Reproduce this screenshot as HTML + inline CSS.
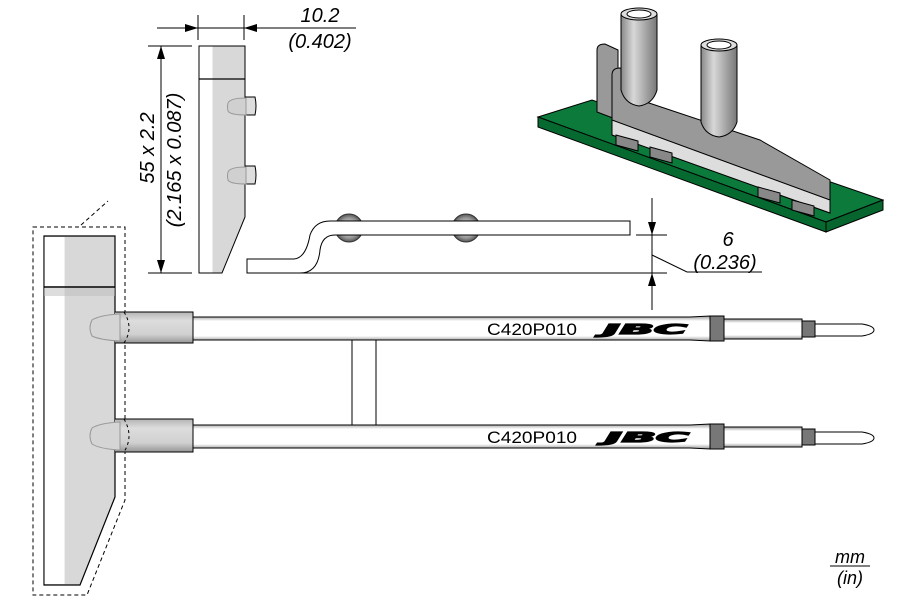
<!DOCTYPE html>
<html><head><meta charset="utf-8"><style>html,body{margin:0;background:#fff}svg{display:block}</style></head><body>
<svg width="900" height="600" viewBox="0 0 900 600" xmlns="http://www.w3.org/2000/svg" font-family="Liberation Sans, sans-serif">
<defs>
<linearGradient id="sh" x1="0" y1="0" x2="0" y2="1"><stop offset="0" stop-color="#999"/><stop offset=".2" stop-color="#fff"/><stop offset=".8" stop-color="#fff"/><stop offset="1" stop-color="#999"/></linearGradient>
<linearGradient id="sl" x1="0" y1="0" x2="0" y2="1"><stop offset="0" stop-color="#aaa"/><stop offset=".3" stop-color="#ddd"/><stop offset=".7" stop-color="#d0d0d0"/><stop offset="1" stop-color="#888"/></linearGradient>
<linearGradient id="cy" x1="0" y1="0" x2="1" y2="0"><stop offset="0" stop-color="#888"/><stop offset=".35" stop-color="#d8d8d8"/><stop offset="1" stop-color="#777"/></linearGradient>
<radialGradient id="ball"><stop offset="0" stop-color="#eee"/><stop offset=".7" stop-color="#999"/><stop offset="1" stop-color="#555"/></radialGradient>
</defs>
<!-- left T view -->
<polyline points="81,225 108,201" fill="none" stroke="#000" stroke-dasharray="4,3"/>
<path d="M33,227 H125 V500 L87,595 H33 Z" fill="none" stroke="#000" stroke-dasharray="4,3"/>
<path d="M44,236 H115 V497 L80,585 H44 Z" fill="#d8d8d8" stroke="#000" stroke-width="1.2"/>
<rect x="44.6" y="237" width="20" height="347" fill="#fff"/>
<line x1="44" y1="287" x2="115" y2="287" stroke="#000" stroke-width="1.5"/>
<rect x="44" y="288" width="71" height="8" fill="#bbb" opacity=".5"/>
<!-- shafts upper -->
<path d="M193,317 H690 L710,316 V341 L690,340 H193 Z" fill="url(#sh)" stroke="#000"/>
<rect x="710" y="316" width="14" height="25" fill="#777" stroke="#000"/>
<rect x="724" y="319" width="78" height="20" fill="url(#sh)" stroke="#000"/>
<rect x="802" y="321" width="13" height="16" fill="#777" stroke="#000"/>
<path d="M815,324 H862 Q874,326 874,330 Q874,334 862,336 H815 Z" fill="#fff" stroke="#000"/>
<!-- shafts lower -->
<path d="M193,425 H690 L710,424 V449 L690,448 H193 Z" fill="url(#sh)" stroke="#000"/>
<rect x="710" y="424" width="14" height="25" fill="#777" stroke="#000"/>
<rect x="724" y="427" width="78" height="20" fill="url(#sh)" stroke="#000"/>
<rect x="802" y="429" width="13" height="16" fill="#777" stroke="#000"/>
<path d="M815,432 H862 Q874,434 874,438 Q874,442 862,444 H815 Z" fill="#fff" stroke="#000"/>
<rect x="352" y="340" width="24" height="85" fill="#fff" stroke="#000"/>
<!-- sleeves -->
<g stroke="#000">
<path d="M115,310 V312 H193 V343 H115 V345" fill="url(#sl)"/>
<path d="M120,314 Q100,315 92,320 Q88,328 92,336 Q100,340 120,341 Z" fill="#d5d5d5" stroke="#999"/>
<path d="M115,417 V419 H193 V452 H115 V454" fill="url(#sl)"/>
<path d="M120,422 Q100,423 92,428 Q88,436 92,444 Q100,449 120,450 Z" fill="#d5d5d5" stroke="#999"/>
</g>
<path d="M124,312 Q134,328 124,343 M124,419 Q134,436 124,452" fill="none" stroke="#000" stroke-dasharray="3,3"/>
<text x="487" y="335" font-size="17" textLength="90" lengthAdjust="spacingAndGlyphs">C420P010</text>
<text x="487" y="443" font-size="17" textLength="90" lengthAdjust="spacingAndGlyphs">C420P010</text>
<text x="603" y="334" font-size="13" font-weight="bold" font-style="italic" font-family="DejaVu Sans, sans-serif" stroke="#000" stroke-width="1.2" textLength="84" lengthAdjust="spacingAndGlyphs">JBC</text>
<text x="605" y="442" font-size="13" font-weight="bold" font-style="italic" font-family="DejaVu Sans, sans-serif" stroke="#000" stroke-width="1.2" textLength="84" lengthAdjust="spacingAndGlyphs">JBC</text>
<!-- side view -->
<path d="M199,46 H245 V217 L222,273 H199 Z" fill="#d8d8d8" stroke="#000"/>
<rect x="199.5" y="46.5" width="13" height="226" fill="#fff"/>
<line x1="199" y1="79" x2="245" y2="79" stroke="#000" stroke-width="1.3"/>
<path d="M245,95 V97 H255 Q257,106 255,115 H245 V117" fill="#ddd" stroke="#000"/>
<path d="M246,98 Q230,98 228,103 Q227,107 228,111 Q230,115 246,115 Z" fill="#d0d0d0" stroke="#999"/>
<path d="M245,164 V166 H255 Q257,175 255,184 H245 V186" fill="#ddd" stroke="#000"/>
<path d="M246,167 Q230,167 228,172 Q227,176 228,180 Q230,184 246,184 Z" fill="#d0d0d0" stroke="#999"/>
<!-- dims -->
<g stroke="#000" fill="none">
<line x1="148" y1="46" x2="192" y2="46"/><line x1="148" y1="273" x2="192" y2="273"/>
<line x1="161" y1="46" x2="161" y2="273"/>
<line x1="198" y1="15" x2="198" y2="40"/><line x1="244" y1="15" x2="244" y2="40"/>
<line x1="157" y1="28" x2="356" y2="28"/>
<line x1="636" y1="235" x2="667" y2="235"/><line x1="636" y1="273" x2="667" y2="273"/>
<line x1="652" y1="198" x2="652" y2="310"/>
<polyline points="652,255 687,272 762,272"/>
<line x1="300" y1="273" x2="660" y2="273"/>
</g>
<g fill="#000">
<path d="M161,46 l-4,13 h8z M161,273 l-4,-13 h8z"/>
<path d="M198,28 l-13,-4 v8z M244,28 l13,-4 v8z"/>
<path d="M652,235 l-4,-13 h8z M652,273 l-4,13 h8z"/>
</g>
<g font-style="italic" font-size="20">
<text x="320" y="22" text-anchor="middle">10.2</text>
<text x="320" y="48" text-anchor="middle">(0.402)</text>
<text transform="translate(154,148) rotate(-90)" text-anchor="middle">55 x 2.2</text>
<text transform="translate(181,160) rotate(-90)" text-anchor="middle">(2.165 x 0.087)</text>
<text x="728" y="246" text-anchor="middle">6</text>
<text x="725" y="269" text-anchor="middle">(0.236)</text>
<text x="850" y="563" text-anchor="middle" font-size="18">mm</text>
<text x="850" y="584" text-anchor="middle" font-size="18">(in)</text>
</g>
<line x1="830" y1="566" x2="870" y2="566" stroke="#000"/>
<!-- profile -->
<circle cx="349" cy="228" r="14" fill="url(#ball)" stroke="#333"/>
<circle cx="466" cy="228" r="14" fill="url(#ball)" stroke="#333"/>
<path d="M630,221 H330 Q315,221 310,235 Q306,258 294,259 H247 V273 H300 Q318,273 320,250 Q322,235 335,235 H630 Z" fill="#fff" stroke="#000"/>
<!-- 3D render -->
<path d="M538,117 L592,100 L883,200 L826,222 Z" fill="#0b7a3a" stroke="#000"/>
<path d="M538,117 L826,222 V232 L538,127 Z" fill="#066a30" stroke="#000"/>
<path d="M826,222 L883,200 V210 L826,232 Z" fill="#07652e" stroke="#000"/>
<g stroke="#000">
<path d="M597,50 Q597,44 605,44 L618,50 V120 L597,112 Z" fill="#999"/>
<path d="M612,75 Q612,68 620,68 L625,70 V95 L760,140 L830,180 V213 L612,135 Z" fill="#999"/>
<path d="M612,120 L830,200 V213 L612,135 Z" fill="#ddd"/>
<path d="M621,14 V90 Q625,104 639,106 Q653,104 657,90 V14 Z" fill="url(#cy)"/>
<ellipse cx="639" cy="14" rx="18" ry="6" fill="#ddd"/>
<ellipse cx="639" cy="14" rx="12" ry="4" fill="#fff"/>
<path d="M701,45 V122 Q705,135 719,137 Q733,135 737,122 V45 Z" fill="url(#cy)"/>
<ellipse cx="719" cy="45" rx="18" ry="6" fill="#ddd"/>
<ellipse cx="719" cy="45" rx="12" ry="4" fill="#fff"/>
<g fill="#888">
<path d="M616,135 l22,6 v10 l-22,-6z"/><path d="M650,147 l22,6 v10 l-22,-6z"/>
<path d="M758,187 l22,6 v10 l-22,-6z"/><path d="M792,200 l22,6 v10 l-22,-6z"/>
</g>
</g>
</svg>
</body></html>
